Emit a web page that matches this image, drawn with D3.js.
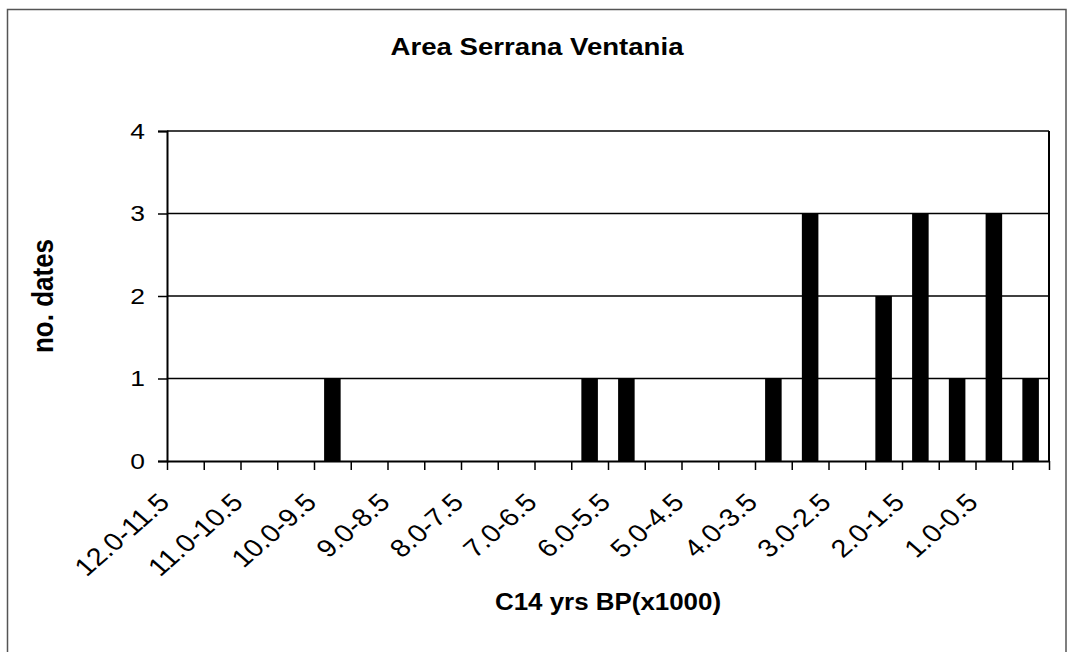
<!DOCTYPE html>
<html>
<head>
<meta charset="utf-8">
<script src="https://cdn.jsdelivr.net/npm/d3@7"></script>
<style>
body { margin: 0; background: #fff; }
text { font-family: Arial, "Liberation Sans", sans-serif; fill: #000; }
</style>
</head>
<body>
<svg id="graph"></svg>
<script>
var categories = ["12.0-11.5", "11.5-11.0", "11.0-10.5", "10.5-10.0", "10.0-9.5", "9.5-9.0",
    "9.0-8.5", "8.5-8.0", "8.0-7.5", "7.5-7.0", "7.0-6.5", "6.5-6.0",
    "6.0-5.5", "5.5-5.0", "5.0-4.5", "4.5-4.0", "4.0-3.5", "3.5-3.0",
    "3.0-2.5", "2.5-2.0", "2.0-1.5", "1.5-1.0", "1.0-0.5", "0.5-0.0"];
var values = [0, 0, 0, 0, 1, 0, 0, 0, 0, 0, 0, 1, 1, 0, 0, 0, 1, 3, 0, 2, 3, 1, 3, 1];
var yTicks = [0, 1, 2, 3, 4];
// only every other category gets a label
var shownLabels = categories.filter(function (d, i) {
    return i % 2 === 0;
});

var width = 1068, height = 652;
var margin = {top: 131, right: 19, bottom: 191, left: 167};
var plotW = width - margin.left - margin.right;
var plotH = height - margin.top - margin.bottom;
// the original picture is a bit stretched sideways, text included
var sx = 1.15;

var svg = d3.select("#graph")
    .attr("width", width)
    .attr("height", height);

// outer chart frame
svg.append("rect")
    .attr("x", 7.5)
    .attr("y", 9.5)
    .attr("width", 1058.5)
    .attr("height", 700)
    .attr("fill", "none")
    .attr("stroke", "#555")
    .attr("stroke-width", 1.5);

var g = svg.append("g")
    .attr("transform", "translate(" + margin.left + "," + margin.top + ")");

var x = d3.scaleBand()
    .domain(categories)
    .range([0, plotW])
    .padding(0);
var xi = d3.scaleLinear()
    .domain([0, categories.length])
    .range([0, plotW]);
var y = d3.scaleLinear()
    .domain([0, 4])
    .range([plotH, 0]);

// gridlines
g.selectAll(".grid")
    .data(yTicks.slice(1))
    .enter().append("line")
    .attr("class", "grid")
    .attr("x1", 0)
    .attr("x2", plotW)
    .attr("y1", function (d) { return y(d); })
    .attr("y2", function (d) { return y(d); })
    .attr("stroke", "#000")
    .attr("stroke-width", 1.5);

// right border of plot area
g.append("line")
    .attr("x1", plotW)
    .attr("x2", plotW)
    .attr("y1", 0)
    .attr("y2", plotH)
    .attr("stroke", "#000")
    .attr("stroke-width", 2);

var barW = x.bandwidth() * 0.45;
g.selectAll(".bar")
    .data(values)
    .enter().append("rect")
    .attr("class", "bar")
    .attr("x", function (d, i) { return x(categories[i]) + (x.bandwidth() - barW) / 2; })
    .attr("y", function (d) { return y(d); })
    .attr("width", barW)
    .attr("height", function (d) { return plotH - y(d); })
    .attr("fill", "#000");

// y axis
var yAxis = g.append("g")
    .call(d3.axisLeft(y).tickValues(yTicks).tickFormat(d3.format("d")).tickSize(9));
yAxis.select(".domain").attr("stroke", "#000").attr("stroke-width", 2);
yAxis.selectAll(".tick line").attr("stroke", "#000").attr("stroke-width", 1.5);
yAxis.selectAll(".tick text")
    .attr("x", 0)
    .attr("transform", "translate(-22,0) scale(1.2,1)")
    .style("font-size", "22px")
    .style("font-family", "Arial, 'Liberation Sans', sans-serif")
    .attr("fill", "#000");

// x axis: ticks on category boundaries
var xAxis = g.append("g")
    .attr("transform", "translate(0," + plotH + ")")
    .call(d3.axisBottom(xi).tickValues(d3.range(categories.length + 1)).tickFormat("").tickSize(9).tickSizeOuter(0));
xAxis.select(".domain").attr("stroke", "#000").attr("stroke-width", 2);
xAxis.selectAll(".tick line").attr("stroke", "#000").attr("stroke-width", 1.5);

g.selectAll(".xlabel")
    .data(shownLabels)
    .enter().append("text")
    .attr("class", "xlabel")
    .attr("text-anchor", "end")
    .attr("transform", function (d) {
        return "translate(" + (x(d) + 4) + "," + (plotH + 43) + ") scale(" + sx + ",1) rotate(-45)";
    })
    .style("font-size", "25px")
    .text(function (d) { return d; });

// titles
svg.append("text")
    .attr("transform", "translate(537,55) scale(" + sx + ",1)")
    .attr("text-anchor", "middle")
    .style("font-size", "24px")
    .style("font-weight", "bold")
    .text("Area Serrana Ventania");

svg.append("text")
    .attr("transform", "translate(" + (margin.left + plotW / 2) + ",610) scale(1.08,1)")
    .attr("text-anchor", "middle")
    .style("font-size", "24px")
    .style("font-weight", "bold")
    .text("C14 yrs BP(x1000)");

svg.append("text")
    .attr("transform", "translate(53," + (margin.top + plotH / 2) + ") scale(" + sx + ",1) rotate(-90)")
    .attr("text-anchor", "middle")
    .style("font-size", "26px")
    .style("font-weight", "bold")
    .text("no. dates");
</script>
</body>
</html>
